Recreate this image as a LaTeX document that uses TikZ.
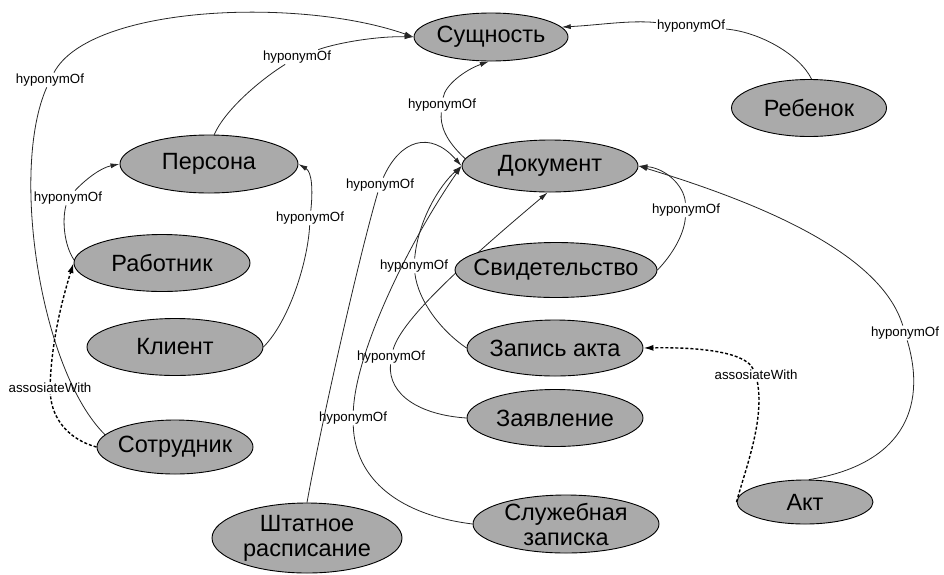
\documentclass[tikz,border=0pt]{standalone}
\usepackage{fontspec}
\setmainfont{Liberation Sans}
\usetikzlibrary{shapes.geometric,arrows.meta,backgrounds}
\definecolor{nodefill}{RGB}{170,170,170}
\tikzset{
  ent/.style={ellipse,draw=black,line width=0.9pt,fill=nodefill,inner xsep=-12pt,inner ysep=-6pt,
    font=\fontsize{23.5}{25}\selectfont,align=center},
  lbl/.style={font=\fontsize{13.3}{15}\selectfont,inner sep=1pt},
  hyp/.style={draw=black!85,line width=0.8pt},
  hyparr/.style={hyp,-{Latex[length=9pt,width=5pt]}},
  assoc/.style={draw=black,line width=1.4pt,dash pattern=on 3pt off 2pt},
  assocarr/.style={assoc,-{Latex[length=10pt,width=6pt]}},
}
\begin{document}
\begin{tikzpicture}[x=1pt,y=-1pt]
\useasboundingbox (0,0) rectangle (944,574);
% entity nodes
\node[ent,minimum width=154pt,minimum height=48pt] (sus) at (491,37) {Сущность};
\node[ent,minimum width=178pt,minimum height=58pt] (per) at (209,164) {Персона};
\node[ent,minimum width=176pt,minimum height=57pt] (rab) at (162,263) {Работник};
\node[ent,minimum width=176pt,minimum height=57pt] (kli) at (175,347) {Клиент};
\node[ent,minimum width=156pt,minimum height=54pt] (sot) at (175,447) {Сотрудник};
\node[ent,minimum width=176pt,minimum height=52pt] (dok) at (550,166) {Документ};
\node[ent,minimum width=202pt,minimum height=55pt] (svi) at (556,270) {Свидетельство};
\node[ent,minimum width=176pt,minimum height=56pt] (zap) at (555,348) {Запись акта};
\node[ent,minimum width=176pt,minimum height=57pt] (zay) at (555,418) {Заявление};
\node[ent,minimum width=186pt,minimum height=58pt] (slu) at (566,524) {Служебная\\записка};
\node[ent,minimum width=190pt,minimum height=70pt] (sht) at (307,538) {Штатное\\расписание};
\node[ent,minimum width=155pt,minimum height=57pt] (reb) at (809,108) {Ребенок};
\node[ent,minimum width=136pt,minimum height=44pt] (akt) at (805,502) {Акт};
% edge labels
\node[lbl] (L1) at (691,26) {hyponymOf};
\node[lbl] (L2) at (297,57) {hyponymOf};
\node[lbl] (L3) at (50,80) {hyponymOf};
\node[lbl] (L4) at (68,198) {hyponymOf};
\node[lbl] (L5) at (310,218) {hyponymOf};
\node[lbl] (L6) at (50,388) {assosiateWith};
\node[lbl] (L7) at (442,105) {hyponymOf};
\node[lbl] (L8) at (380,185) {hyponymOf};
\node[lbl] (L9) at (353,418) {hyponymOf};
\node[lbl] (L10) at (414,266) {hyponymOf};
\node[lbl] (L11) at (391,357) {hyponymOf};
\node[lbl] (L12) at (686,210) {hyponymOf};
\node[lbl] (L13) at (905,333) {hyponymOf};
\node[lbl] (L14) at (756,375) {assosiateWith};
% edges
\begin{scope}[on background layer]
% Ребенок -> Сущность
\draw[hyp] (reb.85) .. controls (800,55) and (760,32) .. (L1);
\draw[hyparr] (L1) .. controls (630,20) and (600,25) .. (sus.8);
% Персона -> Сущность
\draw[hyp] (per.80) .. controls (225,110) and (260,80) .. (L2);
\draw[hyparr] (L2) .. controls (340,42) and (380,36) .. (sus.west);
% Сотрудник -> Сущность
\draw[hyp] (sot.170) .. controls (40,370) and (10,170) .. (L3);
\draw[hyparr] (L3) .. controls (90,5) and (300,-3) .. (sus.west);
% Работник -> Персона
\draw[hyp] (rab.178) .. controls (64,245) and (62,220) .. (L4);
\draw[hyparr] (L4) .. controls (85,180) and (100,168) .. (per.west);
% Клиент -> Персона
\draw[hyp] (kli.east) .. controls (290,320) and (308,260) .. (L5);
\draw[hyparr] (L5) .. controls (313,190) and (312,172) .. (per.east);
% Сотрудник -> Работник (assosiateWith)
\draw[assoc] (sot.west) .. controls (70,440) and (52,420) .. (L6);
\draw[assocarr] (L6) .. controls (52,340) and (62,300) .. (rab.west);
% Документ -> Сущность
\draw[hyp] (dok.175) .. controls (445,140) and (440,125) .. (L7);
\draw[hyparr] (L7) .. controls (445,85) and (465,70) .. (sus.265);
% Штатное расписание -> Документ
\draw[hyp] (sht.north) .. controls (320,430) and (358,260) .. (L8);
\draw[hyparr] (L8) .. controls (400,140) and (430,130) .. (dok.west);
% Запись акта -> Документ
\draw[hyp] (zap.west) .. controls (440,330) and (418,300) .. (L10);
\draw[hyparr] (L10) .. controls (418,220) and (440,185) .. (dok.west);
% Служебная записка -> Документ
\draw[hyp] (slu.west) .. controls (400,515) and (355,480) .. (L9);
\draw[hyparr] (L9) .. controls (356,350) and (410,240) .. (dok.west);
% Заявление -> Документ
\draw[hyp] (zay.west) .. controls (420,415) and (388,395) .. (L11);
\draw[hyparr] (L11) .. controls (402,318) and (470,258) .. (dok.265);
% Свидетельство -> Документ
\draw[hyp] (svi.east) .. controls (672,255) and (684,235) .. (L12);
\draw[hyparr] (L12) .. controls (684,185) and (665,168) .. (dok.east);
% Акт -> Документ
\draw[hyp] (akt.80) .. controls (900,465) and (928,410) .. (L13);
\draw[hyparr] (L13) .. controls (880,250) and (750,200) .. (dok.east);
% Акт -> Запись акта (assosiateWith)
\draw[assoc] (akt.west) .. controls (745,470) and (765,420) .. (L14);
\draw[assocarr] (L14) .. controls (745,352) and (700,347) .. (zap.east);
\end{scope}
\end{tikzpicture}
\end{document}
